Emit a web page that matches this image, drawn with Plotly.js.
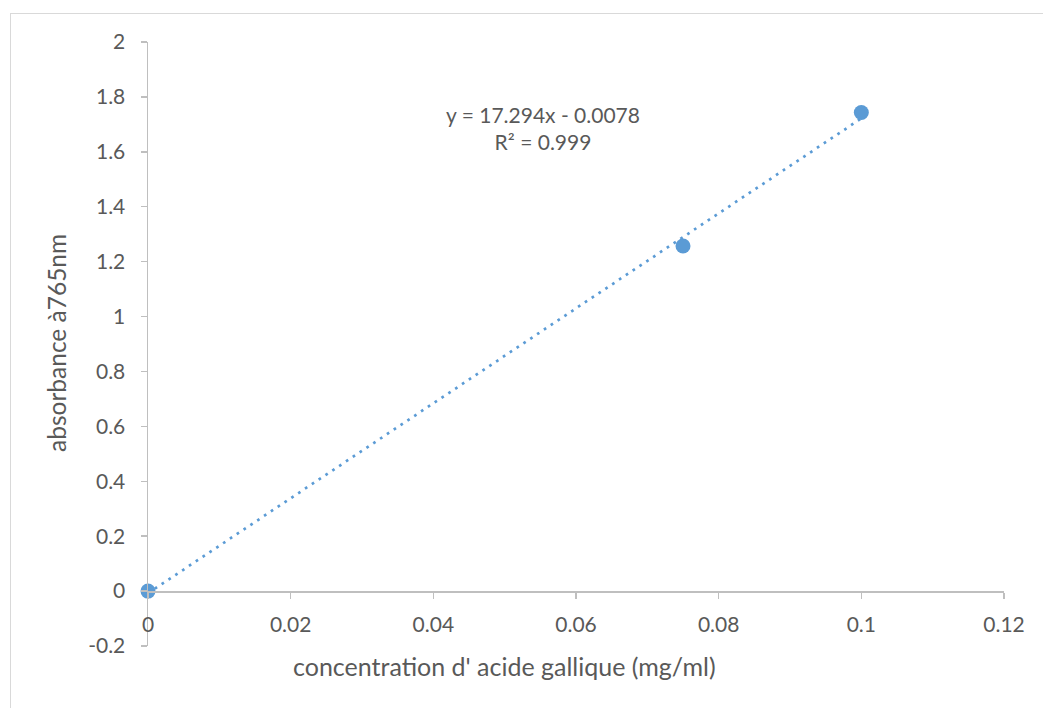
<!DOCTYPE html>
<html>
<head>
<meta charset="utf-8">
<script src="https://cdn.plot.ly/plotly-3.0.1.min.js"></script>
<style>
  html, body { margin: 0; padding: 0; background: #ffffff; overflow: hidden; }
  #wrap { position: relative; width: 1043px; height: 708px; overflow: hidden; }
  #frame { position: absolute; left: 10px; top: 13px; width: 1100px; height: 800px;
           border-top: 1.5px solid #d9d9d9; border-left: 1.5px solid #d9d9d9; }
  #chart { position: absolute; left: 0; top: 0; width: 1043px; height: 708px; }
</style>
</head>
<body>
<div id="wrap">
  <div id="frame"></div>
  <div id="chart"></div>
</div>
<script>
// Data
const concentration = [0, 0.075, 0.1];
const absorbance = [0, 1.257, 1.743];
// Trendline shown on the chart: y = 17.294x - 0.0078
const slope = 17.294;
const intercept = -0.0078;
const equationText = "y = 17.294x - 0.0078";
const r2Text = "R² = 0.999";
const xTickVals = [0, 0.02, 0.04, 0.06, 0.08, 0.1, 0.12];
const xTickText = ["0", "0.02", "0.04", "0.06", "0.08", "0.1", "0.12"];
const yTickVals = [-0.2, 0, 0.2, 0.4, 0.6, 0.8, 1, 1.2, 1.4, 1.6, 1.8, 2];
const yTickText = ["-0.2", "0", "0.2", "0.4", "0.6", "0.8", "1", "1.2", "1.4", "1.6", "1.8", "2"];
const xTitle = "concentration d' acide gallique (mg/ml)";
const yTitle = "absorbance à765nm";

const trendX = [Math.min(...concentration), Math.max(...concentration)];
const trendY = trendX.map(x => slope * x + intercept);

const blue = "#5b9bd5";
const axisGray = "#bfbfbf";
const textGray = "#595959";
const fontFam = "Lato, 'Open Sans', sans-serif";

const traces = [
  {
    x: trendX, y: trendY, type: "scatter", mode: "lines",
    line: { color: blue, width: 2.7, dash: "2.7px,5.5px" },
    hoverinfo: "skip", showlegend: false, cliponaxis: false
  },
  {
    x: concentration, y: absorbance, type: "scatter", mode: "markers",
    marker: { color: blue, size: 15 },
    showlegend: false, cliponaxis: false
  }
];

const yZeroFrac = (0 - (-0.2)) / (2 - (-0.2));

const layout = {
  width: 1043, height: 708,
  margin: { l: 148, r: 39, t: 42, b: 62 },
  paper_bgcolor: "rgba(0,0,0,0)",
  plot_bgcolor: "rgba(0,0,0,0)",
  font: { family: fontFam, color: textGray, size: 21 },
  showlegend: false,
  xaxis: {
    range: [0, 0.12],
    tickvals: xTickVals, ticktext: xTickText,
    showgrid: false, zeroline: false,
    showline: true, linecolor: axisGray, linewidth: 1.5,
    ticks: "outside", ticklen: 6, tickwidth: 1.5, tickcolor: axisGray,
    ticklabelstandoff: 8,
    anchor: "free", position: yZeroFrac,
    tickfont: { family: fontFam, size: 21, color: textGray }
  },
  yaxis: {
    range: [-0.2, 2],
    tickvals: yTickVals, ticktext: yTickText,
    showgrid: false, zeroline: false,
    showline: true, linecolor: axisGray, linewidth: 1.5,
    ticks: "outside", ticklen: 6, tickwidth: 1.5, tickcolor: axisGray,
    ticklabelstandoff: 11,
    tickfont: { family: fontFam, size: 21, color: textGray }
  },
  annotations: [
    {
      text: equationText + "<br>" + r2Text,
      xref: "paper", yref: "paper",
      x: (543 - 148) / 856, y: (646 - 128) / 604,
      xanchor: "center", yanchor: "middle", showarrow: false,
      align: "center",
      font: { family: fontFam, size: 21, color: textGray }
    },
    {
      text: xTitle,
      xref: "paper", yref: "paper",
      x: (504 - 148) / 856, y: (646 - 666) / 604,
      xanchor: "center", yanchor: "middle", showarrow: false,
      font: { family: fontFam, size: 25, color: textGray }
    },
    {
      text: yTitle,
      xref: "paper", yref: "paper",
      x: (56 - 148) / 856, y: (646 - 343) / 604,
      xanchor: "center", yanchor: "middle", showarrow: false,
      textangle: -90,
      font: { family: fontFam, size: 24.5, color: textGray }
    }
  ]
};

Plotly.newPlot("chart", traces, layout, { displayModeBar: false, staticPlot: true });
</script>
</body>
</html>
